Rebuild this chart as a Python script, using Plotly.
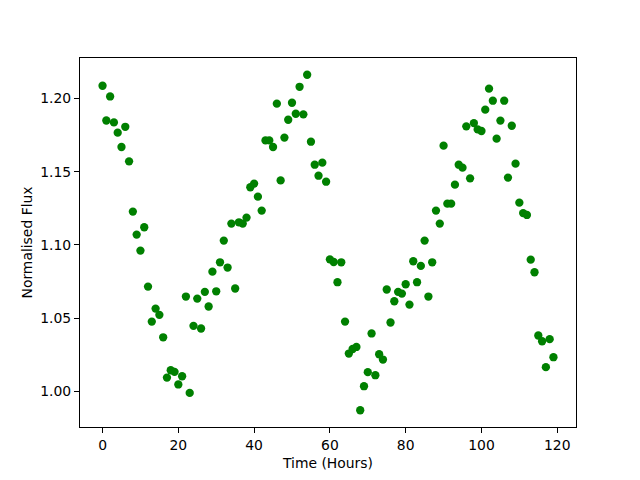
import plotly.graph_objects as go

hours = list(range(120))
flux = [
    1.2087, 1.1850, 1.2014, 1.1837, 1.1767, 1.1669, 1.1807, 1.1571, 1.1228, 1.1071,
    1.0962, 1.1121, 1.0716, 1.0477, 1.0566, 1.0523, 1.0370, 1.0095, 1.0145, 1.0134,
    1.0048, 1.0104, 1.0648, 0.9990, 1.0448, 1.0634, 1.0430, 1.0680, 1.0580, 1.0818,
    1.0684, 1.0882, 1.1030, 1.0846, 1.1146, 1.0703, 1.1155, 1.1146, 1.1187, 1.1394,
    1.1419, 1.1330, 1.1235, 1.1714, 1.1714, 1.1669, 1.1965, 1.1441, 1.1733, 1.1855,
    1.1971, 1.1896, 1.2080, 1.1892, 1.2162, 1.1705, 1.1548, 1.1473, 1.1562, 1.1432,
    1.0902, 1.0884, 1.0746, 1.0882, 1.0477, 1.0259, 1.0290, 1.0304, 0.9872, 1.0036,
    1.0132, 1.0396, 1.0111, 1.0254, 1.0218, 1.0696, 1.0471, 1.0616, 1.0680, 1.0668,
    1.0732, 1.0593, 1.0889, 1.0746, 1.0857, 1.1030, 1.0648, 1.0882, 1.1235, 1.1146,
    1.1678, 1.1282, 1.1282, 1.1412, 1.1548, 1.1528, 1.1810, 1.1455, 1.1832, 1.1789,
    1.1778, 1.1924, 1.2067, 1.1985, 1.1726, 1.1849, 1.1985, 1.1460, 1.1814, 1.1555,
    1.1289, 1.1218, 1.1205, 1.0900, 1.0814, 1.0382, 1.0343, 1.0166, 1.0357, 1.0234,
]
x_ticks = [0, 20, 40, 60, 80, 100, 120]
y_ticks = [1.00, 1.05, 1.10, 1.15, 1.20]

xmin, xmax = min(hours), max(hours)
ymin, ymax = min(flux), max(flux)
xpad = (xmax - xmin) * 0.05
ypad = (ymax - ymin) * 0.05

fig = go.Figure(go.Scatter(
    x=hours, y=flux, mode="markers",
    marker=dict(color="#008000", size=8.3, line=dict(width=0)),
))

font = dict(family="DejaVu Sans", size=13.9, color="black")
axis_common = dict(
    showline=True, linecolor="black", linewidth=1, mirror=True,
    ticks="outside", ticklen=5, tickwidth=1, tickcolor="black",
    showgrid=False, zeroline=False, tickfont=font,
)
fig.update_xaxes(range=[xmin - xpad, xmax + xpad], tickvals=x_ticks,
                 title=dict(text="Time (Hours)", font=font, standoff=6), **axis_common)
fig.update_yaxes(range=[ymin - ypad, ymax + ypad], tickvals=y_ticks, tickformat=".2f",
                 title=dict(text="Normalised Flux", font=font, standoff=4), **axis_common)
fig.update_layout(
    width=640, height=480, margin=dict(l=80, r=64, t=58, b=53, pad=0),
    paper_bgcolor="white", plot_bgcolor="white", showlegend=False, font=font,
)
fig.write_html("out.html", config={"displayModeBar": False},
               post_script="document.body.style.margin='0';")
